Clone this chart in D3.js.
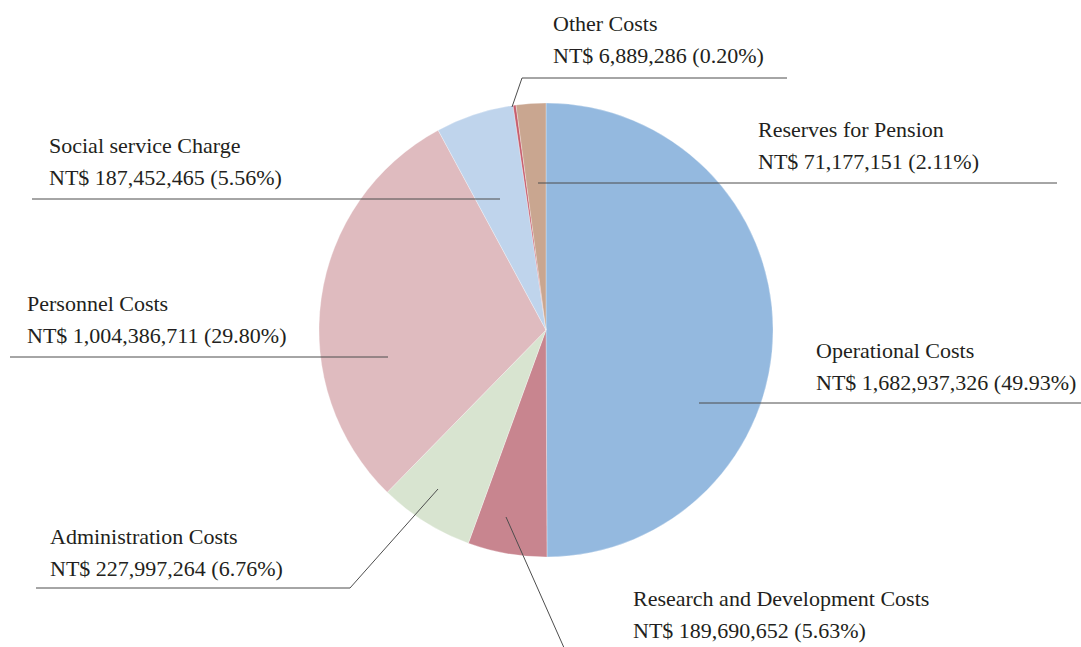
<!DOCTYPE html>
<html>
<head>
<meta charset="utf-8">
<script src="https://cdn.jsdelivr.net/npm/d3@7"></script>
<style>
  html, body { margin: 0; padding: 0; background: #fff; }
  svg { display: block; }
</style>
</head>
<body>
<div id="chart"></div>
<script>
// data
const categories = [
  "Operational Costs",
  "Research and Development Costs",
  "Administration Costs",
  "Personnel Costs",
  "Social service Charge",
  "Other Costs",
  "Reserves for Pension"
];
const amounts = [1682937326, 189690652, 227997264, 1004386711, 187452465, 6889286, 71177151];
const percents = ["49.93%", "5.63%", "6.76%", "29.80%", "5.56%", "0.20%", "2.11%"];
const colors = ["#94b9df", "#c8858f", "#d8e4d0", "#dfbbbf", "#bfd4ec", "#c65e6e", "#c9a690"];

// label placement (text left x, first baseline y, leader line points)
const labelLayout = [
  { x: 816, y: 358, line: [[1081, 403], [699, 403]] },
  { x: 633, y: 606, line: [[565, 650], [506, 517]] },
  { x: 50,  y: 544, line: [[36, 588], [350, 588], [438, 489]] },
  { x: 27,  y: 311, line: [[10, 357], [388, 357]] },
  { x: 49,  y: 153, line: [[32, 199], [500, 199]] },
  { x: 553, y: 31,  line: [[787, 78], [522, 78], [512, 107]] },
  { x: 758, y: 137, line: [[1057, 183], [538, 183]] }
];

const width = 1081, height = 647;
const cx = 546, cy = 330, radius = 227;

const svg = d3.select("#chart").append("svg")
  .attr("width", width)
  .attr("height", height);

const pie = d3.pie().sort(null).value(d => d);
const arc = d3.arc().innerRadius(0).outerRadius(radius);
const fmt = d3.format(",");

const g = svg.append("g").attr("transform", `translate(${cx},${cy})`);

g.selectAll("path.slice")
  .data(pie(amounts))
  .enter()
  .append("path")
  .attr("class", "slice")
  .attr("d", arc)
  .attr("fill", (d, i) => colors[i])
  .attr("stroke", "#fff")
  .attr("stroke-width", 0.3);

// leader lines
svg.selectAll("polyline.leader")
  .data(labelLayout)
  .enter()
  .append("polyline")
  .attr("class", "leader")
  .attr("points", d => d.line.map(p => p.join(",")).join(" "))
  .attr("fill", "none")
  .attr("stroke", "#4d4d4d")
  .attr("stroke-width", 1);

// labels
const labels = svg.selectAll("g.label")
  .data(categories)
  .enter()
  .append("g")
  .attr("class", "label")
  .attr("font-family", "'Liberation Serif', 'DejaVu Serif', serif")
  .attr("font-size", "22px")
  .attr("fill", "#231f20");

labels.append("text")
  .attr("x", (d, i) => labelLayout[i].x)
  .attr("y", (d, i) => labelLayout[i].y)
  .text(d => d);

labels.append("text")
  .attr("x", (d, i) => labelLayout[i].x)
  .attr("y", (d, i) => labelLayout[i].y + 32)
  .text((d, i) => `NT$ ${fmt(amounts[i])} (${percents[i]})`);
</script>
</body>
</html>
